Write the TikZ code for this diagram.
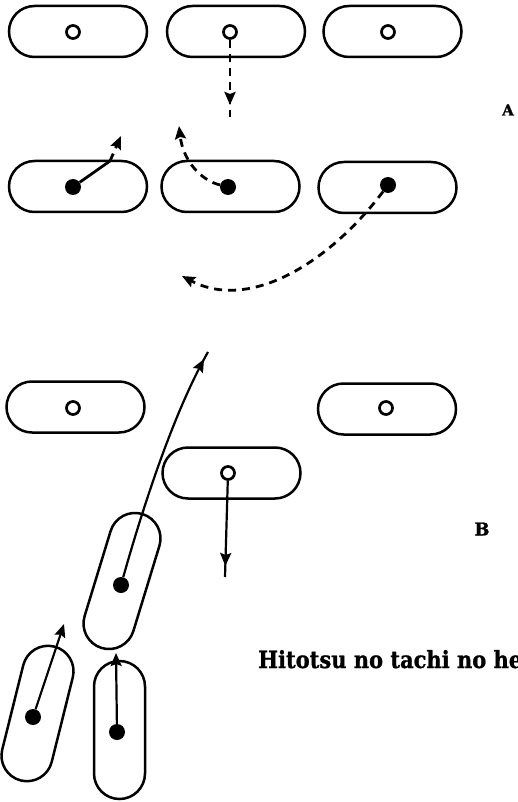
\documentclass[tikz,border=0pt]{standalone}
\usepackage{fontspec}
\setmainfont{DejaVu Serif}
\newfontfamily\heavyface[BoldFeatures={FakeBold=1.2}]{DejaVu Serif}
\usetikzlibrary{arrows.meta,shapes.misc,decorations.markings}
\tikzset{
  stand/.style={draw, rounded rectangle, line width=2.5pt, minimum width=138pt,
    minimum height=51pt, inner sep=0pt},
  spot/.style={circle, draw, line width=2.7pt, minimum size=13pt, inner sep=0pt, fill=white},
  solidspot/.style={circle, fill, minimum size=16pt, inner sep=0pt},
  stroke/.style={line width=2.2pt},
  feint/.style={line width=2.8pt, dash pattern=on 8pt off 6pt},
  headed/.style={-{Stealth[length=13pt,width=11pt,inset=2pt]}},
  midtip/.style={postaction={decorate}, decoration={markings,
    mark=at position #1 with {\arrow{Stealth[length=13pt,width=11pt,inset=2pt]}}}},
  caption/.style={inner sep=0pt, font=\heavyface\bfseries},
}
\begin{document}
\begin{tikzpicture}[x=1pt,y=-1pt]
\useasboundingbox (0,0) rectangle (517,802);

% --- diagram A: first row (open circles)
\node[stand] (o1) at (78,31.5) {};
\node[stand] (o2) at (236,31.5) {};
\node[stand] (o3) at (392.5,31.5) {};
\node[spot] (o1c) at (73,32) {};
\node[spot] (o2c) at (230,32) {};
\node[spot] (o3c) at (388,32) {};

% --- diagram A: second row (filled dots)
\node[stand] (p1) at (78,186.5) {};
\node[stand] (p2) at (230.5,186.5) {};
\node[stand] (p3) at (387.5,187.5) {};
\node[solidspot] (p1d) at (73,187) {};
\node[solidspot] (p2d) at (228,187) {};
\node[solidspot] (p3d) at (388,185) {};

\coordinate (a1end) at (230,117);
\coordinate (a2mid) at (110,161);
\coordinate (a2end) at (121,136);
\coordinate (a3end) at (179,126);
\coordinate (a4end) at (182,276);

\draw[feint, midtip=-12pt] (o2c) -- (a1end);
\draw[line width=2.8pt] (p1d) -- (a2mid);
\draw[feint, headed] (a2mid) -- (a2end);
\draw[feint, headed] (p2d) .. controls (200,180) and (183,160) .. (a3end);
\draw[feint, headed] (p3d) .. controls (330,262) and (250,312) .. (a4end);

\node[caption] (labA) at (508,110) {\resizebox{!}{11pt}{A}};

% --- diagram B
\node[stand] (q1) at (75.5,407) {};
\node[stand] (q3) at (387,409) {};
\node[stand] (q2) at (231.5,473) {};
\node[spot] (q1c) at (73,408) {};
\node[spot] (q3c) at (386,408) {};
\node[spot] (q2c) at (228,473) {};

\node[stand, rotate=73, minimum width=140pt] (r1) at (122,581) {};
\node[stand, rotate=76] (r2) at (37.5,713.5) {};
\node[stand, rotate=90] (r3) at (119.5,730) {};
\node[solidspot] (r1d) at (121,585) {};
\node[solidspot] (r2d) at (33,717) {};
\node[solidspot] (r3d) at (117,732) {};

\coordinate (b1end) at (225,577);
\coordinate (b2end) at (208,352);
\coordinate (b3end) at (64,624);
\coordinate (b4end) at (116,653);

\draw[stroke, midtip=-11pt] (q2c) -- (b1end);
\draw[stroke, midtip=-8pt] (r1d) .. controls (145,500) and (175,410) .. (b2end);
\draw[stroke, headed] (r2d) -- (b3end);
\draw[stroke, headed] (r3d) -- (b4end);

\node[caption] (labB) at (482,529) {\resizebox{!}{13pt}{B}};

\node[caption, anchor=base west] (title) at (258,668)
  {\resizebox{264pt}{18pt}{Hitotsu no tachi no he}};
\end{tikzpicture}
\end{document}
